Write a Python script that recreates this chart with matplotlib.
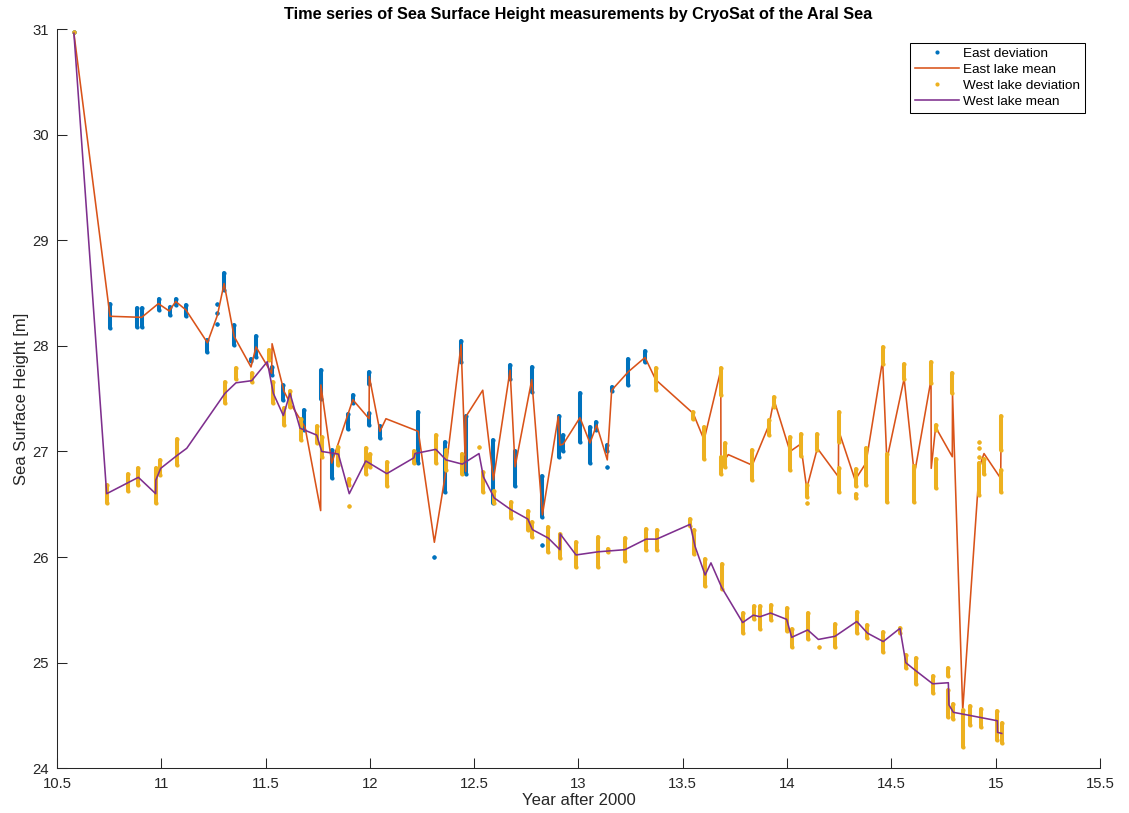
import matplotlib
matplotlib.use("Agg")
import matplotlib.pyplot as plt
from matplotlib.ticker import FuncFormatter

plt.rcParams['font.family'] = ['Liberation Sans', 'DejaVu Sans']

# ---------------------------------------------------------------------------
# Lake mean sea surface height per CryoSat pass (year after 2000, metres)
# ---------------------------------------------------------------------------
east_mean_year = [10.581, 10.754, 10.906, 10.986, 11.038, 11.069, 11.118, 11.221,
                  11.269, 11.301, 11.349, 11.430, 11.454, 11.529, 11.531, 11.588,
                  11.617, 11.689, 11.764, 11.765, 11.817, 11.918, 11.996, 11.997,
                  12.048, 12.077, 12.232, 12.309, 12.360, 12.437, 12.459, 12.460,
                  12.541, 12.592, 12.672, 12.696, 12.776, 12.827, 12.903, 12.911,
                  12.927, 13.007, 13.055, 13.087, 13.138, 13.159, 13.239, 13.319,
                  13.370, 13.550, 13.602, 13.682, 13.683, 13.718, 13.833, 13.913,
                  13.937, 14.014, 14.065, 14.094, 14.145, 14.246, 14.247, 14.326,
                  14.378, 14.458, 14.478, 14.561, 14.610, 14.690, 14.691, 14.712,
                  14.792, 14.793, 14.842, 14.922, 14.944, 15.024, 15.025]
east_mean_ssh = [30.96, 28.28, 28.27, 28.40, 28.33, 28.42, 28.34, 28.03,
                 28.29, 28.59, 28.09, 27.80, 27.99, 27.74, 28.02, 27.57,
                 27.46, 27.23, 26.44, 27.63, 26.89, 27.49, 27.31, 27.71,
                 27.19, 27.31, 27.19, 26.14, 26.76, 28.01, 26.81, 27.33,
                 27.58, 26.73, 27.77, 26.855, 27.68, 26.40, 27.33, 27.06,
                 27.07, 27.32, 27.08, 27.25, 26.92, 27.58, 27.755, 27.89,
                 27.68, 27.36, 27.11, 27.77, 26.87, 26.97, 26.87, 27.25,
                 27.49, 27.00, 27.07, 26.65, 27.03, 26.76, 27.20, 26.73,
                 26.89, 27.865, 26.92, 27.69, 26.78, 27.68, 26.84, 27.23,
                 26.95, 27.55, 24.55, 26.855, 26.98, 26.745, 27.00]

west_mean_year = [10.581, 10.738, 10.890, 10.973, 10.974, 10.997, 11.074, 11.122,
                  11.305, 11.358, 11.433, 11.508, 11.537, 11.585, 11.617, 11.665,
                  11.745, 11.769, 11.849, 11.901, 11.980, 12.081, 12.211, 12.216,
                  12.316, 12.365, 12.443, 12.523, 12.544, 12.596, 12.675, 12.757,
                  12.779, 12.855, 12.911, 12.912, 12.988, 13.095, 13.223, 13.324,
                  13.375, 13.535, 13.559, 13.607, 13.635, 13.687, 13.787, 13.838,
                  13.870, 13.921, 13.998, 14.022, 14.099, 14.150, 14.230, 14.334,
                  14.385, 14.461, 14.541, 14.569, 14.613, 14.698, 14.773, 14.776,
                  14.797, 14.877, 15.008, 15.009, 15.029]
west_mean_ssh = [30.96, 26.60, 26.755, 26.60, 26.73, 26.84, 26.96, 27.03,
                 27.55, 27.65, 27.67, 27.85, 27.55, 27.34, 27.55, 27.22,
                 27.155, 27.00, 26.975, 26.60, 26.91, 26.79, 26.94, 26.98,
                 27.02, 26.92, 26.88, 26.98, 26.76, 26.56, 26.45, 26.36,
                 26.26, 26.18, 26.07, 26.22, 26.02, 26.05, 26.07, 26.17,
                 26.17, 26.31, 26.10, 25.83, 25.945, 25.71, 25.38, 25.45,
                 25.435, 25.47, 25.41, 25.24, 25.31, 25.22, 25.25, 25.39,
                 25.28, 25.20, 25.325, 25.00, 24.93, 24.80, 24.81, 24.60,
                 24.53, 24.50, 24.45, 24.34, 24.33]

# ---------------------------------------------------------------------------
# Spread of individual measurements within each pass: lowest / highest value
# ---------------------------------------------------------------------------
east_dev_year = [10.581, 10.754, 10.885, 10.909, 10.989, 11.042, 11.069, 11.118,
                 11.221, 11.269, 11.269, 11.269, 11.301, 11.349, 11.430, 11.454,
                 11.529, 11.582, 11.686, 11.764, 11.817, 11.894, 11.918, 11.997,
                 11.997, 12.048, 12.229, 12.309, 12.360, 12.437, 12.459, 12.592,
                 12.672, 12.696, 12.776, 12.827, 12.827, 12.908, 12.927, 13.007,
                 13.055, 13.084, 13.138, 13.138, 13.159, 13.239, 13.319]
east_dev_low = [30.97, 28.165, 28.18, 28.18, 28.34, 28.29, 28.39, 28.28,
                27.94, 28.21, 28.31, 28.40, 28.53, 28.01, 27.86, 27.89,
                27.72, 27.49, 27.20, 27.50, 26.745, 27.21, 27.455, 27.64,
                27.25, 27.13, 26.89, 26.00, 26.62, 27.85, 26.79, 26.51,
                27.69, 26.67, 27.56, 26.38, 26.11, 26.95, 27.00, 27.09,
                26.89, 27.20, 27.00, 26.85, 27.57, 27.63, 27.85]
east_dev_high = [30.97, 28.40, 28.355, 28.355, 28.44, 28.37, 28.44, 28.39,
                 28.055, 28.21, 28.31, 28.40, 28.69, 28.20, 27.88, 28.09,
                 27.80, 27.63, 27.39, 27.77, 27.01, 27.35, 27.53, 27.755,
                 27.36, 27.24, 27.375, 26.00, 27.09, 28.05, 27.34, 27.11,
                 27.82, 27.00, 27.80, 26.77, 26.11, 27.34, 27.155, 27.55,
                 27.23, 27.28, 27.06, 26.85, 27.61, 27.88, 27.95]

west_dev_year = [10.581, 10.738, 10.842, 10.890, 10.973, 10.994, 11.074, 11.305,
                 11.358, 11.436, 11.516, 11.537, 11.588, 11.617, 11.668, 11.745,
                 11.769, 11.849, 11.901, 11.901, 11.980, 12.000, 12.081, 12.211,
                 12.316, 12.365, 12.443, 12.523, 12.544, 12.596, 12.675, 12.757,
                 12.779, 12.855, 12.911, 12.988, 13.095, 13.143, 13.223, 13.324,
                 13.375, 13.370, 13.535, 13.550, 13.555, 13.602, 13.607, 13.682,
                 13.682, 13.687, 13.704, 13.787, 13.833, 13.841, 13.870, 13.913,
                 13.921, 13.937, 13.998, 14.014, 14.022, 14.065, 14.094, 14.094,
                 14.099, 14.145, 14.153, 14.230, 14.249, 14.249, 14.329, 14.329,
                 14.334, 14.378, 14.385, 14.458, 14.461, 14.480, 14.541, 14.561,
                 14.569, 14.610, 14.617, 14.690, 14.698, 14.714, 14.714, 14.773,
                 14.773, 14.792, 14.797, 14.842, 14.877, 14.922, 14.922, 14.922,
                 14.922, 14.928, 14.944, 15.008, 15.024, 15.024, 15.029]
west_dev_low = [30.97, 26.51, 26.63, 26.68, 26.51, 26.78, 26.87, 27.455,
                27.69, 27.66, 27.87, 27.455, 27.25, 27.42, 27.11, 27.08,
                26.95, 26.87, 26.68, 26.48, 26.79, 26.855, 26.67, 26.89,
                26.89, 26.82, 26.79, 27.04, 26.62, 26.51, 26.37, 26.26,
                26.19, 26.05, 25.99, 25.91, 25.91, 26.05, 25.96, 26.07,
                26.07, 27.58, 26.29, 27.31, 26.03, 26.93, 25.73, 27.53,
                26.79, 25.70, 26.855, 25.28, 26.73, 25.41, 25.32, 27.155,
                25.40, 27.42, 25.30, 26.82, 25.15, 26.96, 26.57, 26.51,
                25.22, 27.01, 25.145, 25.15, 27.09, 26.62, 26.67, 26.56,
                25.28, 26.68, 25.23, 27.83, 25.10, 26.52, 25.28, 27.69,
                24.95, 26.52, 24.80, 27.65, 24.715, 27.20, 26.65, 24.87,
                24.49, 27.55, 24.47, 24.20, 24.41, 27.09, 27.03, 26.95,
                26.59, 24.39, 26.79, 24.27, 27.01, 26.62, 24.235]
west_dev_high = [30.97, 26.68, 26.79, 26.84, 26.84, 26.92, 27.12, 27.66,
                 27.79, 27.745, 27.96, 27.66, 27.41, 27.57, 27.31, 27.24,
                 27.14, 27.04, 26.74, 26.48, 27.03, 26.98, 26.90, 27.00,
                 27.155, 27.01, 26.98, 27.04, 26.81, 26.63, 26.52, 26.44,
                 26.33, 26.28, 26.22, 26.14, 26.19, 26.08, 26.18, 26.27,
                 26.26, 27.79, 26.36, 27.375, 26.26, 27.23, 25.98, 27.79,
                 26.95, 25.93, 27.08, 25.47, 27.01, 25.54, 25.54, 27.30,
                 25.545, 27.52, 25.52, 27.14, 25.32, 27.17, 26.68, 26.51,
                 25.47, 27.17, 25.145, 25.37, 27.37, 26.84, 26.83, 26.60,
                 25.48, 27.03, 25.36, 27.99, 25.29, 26.98, 25.33, 27.83,
                 25.07, 26.86, 25.04, 27.85, 24.87, 27.25, 26.93, 24.945,
                 24.74, 27.745, 24.61, 24.55, 24.59, 27.09, 27.03, 26.95,
                 26.89, 24.56, 26.93, 24.54, 27.34, 26.82, 24.43]

x_ticks = [10.5, 11, 11.5, 12, 12.5, 13, 13.5, 14, 14.5, 15, 15.5]
y_ticks = [24, 25, 26, 27, 28, 29, 30, 31]

BLUE = '#0072BD'
ORANGE = '#D95319'
YELLOW = '#EDB120'
PURPLE = '#7E2F8E'
AXIS_COLOR = '#262626'

fig = plt.figure(figsize=(11.29, 8.13), dpi=100)
ax = fig.add_axes([0.0505, 0.055, 0.9238, 0.9093])


def draw_spread(years, lows, highs, color, label, z):
    strips = ax.vlines(years, lows, highs, colors=color, linewidth=2.9, zorder=z)
    strips.set_capstyle('round')
    ax.plot(years, lows, linestyle='none', marker='o', markersize=3.0,
            markeredgewidth=0, color=color, zorder=z)
    handle, = ax.plot(years, highs, linestyle='none', marker='o', markersize=3.0,
                      markeredgewidth=0, color=color, zorder=z, label=label)
    return handle


h1 = draw_spread(east_dev_year, east_dev_low, east_dev_high, BLUE, 'East deviation', 2)
h2, = ax.plot(east_mean_year, east_mean_ssh, color=ORANGE, linewidth=1.15,
              zorder=3, label='East lake mean')
h3 = draw_spread(west_dev_year, west_dev_low, west_dev_high, YELLOW, 'West lake deviation', 4)
h4, = ax.plot(west_mean_year, west_mean_ssh, color=PURPLE, linewidth=1.15,
              zorder=5, label='West lake mean')

ax.set_xlim(10.5, 15.5)
ax.set_ylim(24, 31)
ax.set_xticks(x_ticks)
ax.set_yticks(y_ticks)
ax.xaxis.set_major_formatter(FuncFormatter(lambda v, p: f'{v:g}'))
ax.yaxis.set_major_formatter(FuncFormatter(lambda v, p: f'{v:g}'))

for side in ('top', 'right'):
    ax.spines[side].set_visible(False)
for side in ('left', 'bottom'):
    ax.spines[side].set_color(AXIS_COLOR)
    ax.spines[side].set_linewidth(0.75)

ax.tick_params(direction='in', length=7, width=0.75, color=AXIS_COLOR,
               labelsize=10.7, labelcolor=AXIS_COLOR, pad=6)

ax.set_title('Time series of Sea Surface Height measurements by CryoSat of the Aral Sea',
             fontsize=11.7, fontweight='bold', pad=7.5)
ax.set_xlabel('Year after 2000', fontsize=12, color=AXIS_COLOR, labelpad=2)
ax.set_ylabel('Sea Surface Height [m]', fontsize=12, color=AXIS_COLOR, labelpad=2)

leg = ax.legend(handles=[h1, h2, h3, h4], loc='upper right',
                bbox_to_anchor=(0.9856, 0.9811), borderaxespad=0,
                fontsize=9.7, fancybox=False, framealpha=1, edgecolor='black',
                handlelength=3.3, handletextpad=0.3, labelspacing=0.26,
                borderpad=0.35, numpoints=1)
leg.get_frame().set_linewidth(0.75)

fig.savefig('out.png', dpi=100)
